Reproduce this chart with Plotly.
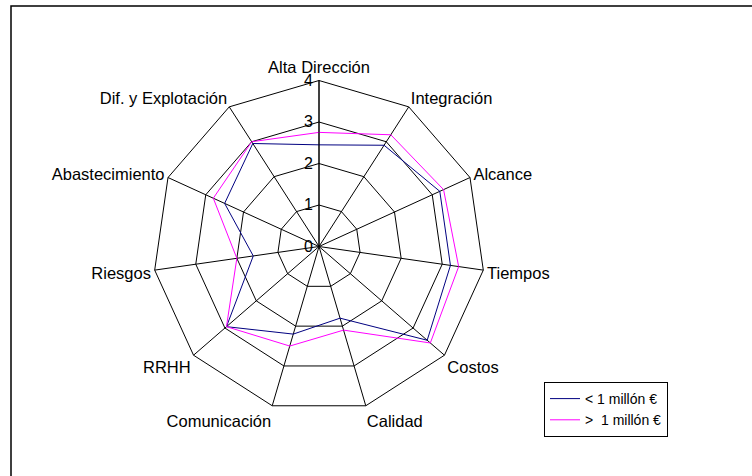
import plotly.graph_objects as go

categories = ["Alta Dirección", "Integración", "Alcance", "Tiempos", "Costos",
              "Calidad", "Comunicación", "RRHH", "Riesgos", "Abastecimiento",
              "Dif. y Explotación"]
small_projects = [2.45, 2.9, 3.2, 3.2, 3.45, 1.8, 2.2, 2.95, 1.6, 2.5, 2.95]
large_projects = [2.75, 3.2, 3.3, 3.4, 3.55, 2.1, 2.5, 2.95, 2.0, 2.8, 3.0]
series_names = ["< 1 millón €", ">\u00a0 1 millón €"]
radial_ticks = [0, 1, 2, 3, 4]

W, H = 752, 476
cx, cy, R = 319, 246.5, 166

fig = go.Figure()
for vals, name, color in [(small_projects, series_names[0], "#000080"),
                          (large_projects, series_names[1], "#FF00FF")]:
    fig.add_trace(go.Scatterpolar(
        r=vals + vals[:1], theta=categories + categories[:1],
        mode="lines", name=name, line=dict(color=color, width=1)))

fig.update_layout(
    width=W, height=H,
    margin=dict(l=0, r=0, t=0, b=0),
    paper_bgcolor="white",
    font=dict(family="Liberation Sans, Arial, sans-serif", color="black"),
    polar=dict(
        domain=dict(x=[(cx - R) / W, (cx + R) / W],
                    y=[(H - cy - R) / H, (H - cy + R) / H]),
        bgcolor="white",
        gridshape="linear",
        angularaxis=dict(direction="clockwise", rotation=90,
                         showline=True, linecolor="black", linewidth=1,
                         gridcolor="black", gridwidth=1, ticks="",
                         tickfont=dict(size=16.5)),
        radialaxis=dict(range=[0, 4], tickvals=radial_ticks,
                        showline=True, linecolor="black", linewidth=1,
                        gridcolor="black", gridwidth=1, ticks="",
                        angle=90, side="counterclockwise", tickangle=90,
                        tickfont=dict(size=16)),
    ),
    legend=dict(x=544 / W, y=(H - 382) / H,
                xanchor="left", yanchor="top",
                bordercolor="black", borderwidth=1, bgcolor="white",
                font=dict(size=14), tracegroupgap=2),
    shapes=[dict(type="rect", xref="paper", yref="paper",
                 x0=11 / W, x1=1.05, y0=-0.05, y1=(H - 6) / H,
                 line=dict(color="black", width=1.5))],
)

fig.write_html("out.html", config={"displayModeBar": False},
               post_script="document.body.style.margin='0';")
